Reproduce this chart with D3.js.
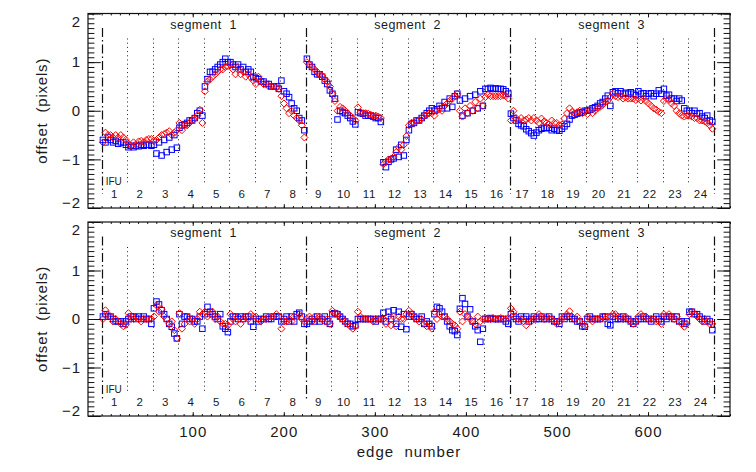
<!DOCTYPE html>
<html><head><meta charset="utf-8">
<script src="https://cdn.jsdelivr.net/npm/d3@7"></script>
<style>
html,body{margin:0;padding:0;background:#fff;}
svg text{font-family:"Liberation Sans",Arial,sans-serif;fill:#1a1a1a;}
</style></head>
<body><svg id="chart" width="756" height="472"></svg>
<script>
// ---------------- data ----------------
const ifuLabels = d3.range(1, 25).map(String);
const segmentLabels = ["segment  1", "segment  2", "segment  3"];
const segmentBounds = [0, 224, 448, 672];
const xTickLabels = [100, 200, 300, 400, 500, 600];
const yTickLabels = [-2, -1, 0, 1, 2];

// top panel, per IFU (10 sampled edges each)
const topRed = [
[-0.65,-0.45,-0.5,-0.5,-0.55,-0.5,-0.55,-0.5,-0.55,-0.6],
[-0.68,-0.72,-0.65,-0.7,-0.63,-0.62,-0.65,-0.6,-0.58,-0.58],
[-0.62,-0.6,-0.55,-0.5,-0.48,-0.45,-0.42,-0.5,-0.45,-0.4],
[-0.25,-0.4,-0.3,-0.3,-0.25,-0.2,-0.15,-0.1,0.02,-0.25],
[0.4,0.6,0.65,0.7,0.75,0.8,0.85,0.85,0.9,0.92],
[0.95,0.85,0.75,0.9,0.75,0.8,0.7,0.75,0.68,0.62],
[0.55,0.7,0.6,0.55,0.55,0.5,0.5,0.5,0.48,0.45],
[0.3,0.15,0.05,-0.05,0.0,-0.1,-0.15,-0.2,-0.3,-0.55],
[1.0,0.95,0.9,0.85,0.8,0.75,0.72,0.65,0.6,0.5],
[0.35,0.2,0.0,0.08,0.05,0.0,-0.05,-0.1,-0.15,-0.2],
[0.07,-0.03,-0.05,-0.05,-0.06,-0.08,-0.1,-0.1,-0.12,-0.15],
[-1.1,-1.05,-1.0,-1.0,-0.95,-0.85,-0.75,-0.8,-0.7,-0.52],
[-0.3,-0.25,-0.25,-0.2,-0.2,-0.15,-0.1,-0.08,-0.05,-0.05],
[-0.1,0.0,0.05,0.0,0.1,0.15,0.2,0.25,0.3,0.35],
[0.0,-0.12,0.05,-0.05,0.1,0.0,0.18,0.05,0.25,0.1],
[0.28,0.33,0.3,0.3,0.3,0.3,0.3,0.32,0.3,0.25],
[-0.2,0.0,-0.15,-0.2,-0.15,-0.2,-0.18,-0.15,-0.2,-0.15],
[-0.2,-0.25,-0.16,-0.22,-0.25,-0.28,-0.2,-0.25,-0.25,-0.3],
[-0.28,-0.16,-0.05,0.05,-0.02,-0.05,-0.03,0.0,-0.05,0.0],
[-0.07,0.0,-0.05,0.0,0.05,0.08,0.12,0.18,0.21,0.28],
[0.35,0.3,0.28,0.3,0.25,0.27,0.25,0.25,0.25,0.22],
[0.25,0.21,0.25,0.2,0.15,0.1,0.05,0.02,-0.02,-0.05],
[0.2,0.25,0.22,0.15,0.1,0.0,-0.05,-0.1,-0.12,-0.1],
[-0.1,-0.12,-0.15,-0.15,-0.2,-0.2,-0.22,-0.25,-0.3,-0.37]
];
const topBlue = [
[-0.6,-0.65,-0.55,-0.6,-0.65,-0.62,-0.68,-0.65,-0.65,-0.7],
[-0.75,-0.72,-0.75,-0.72,-0.73,-0.7,-0.72,-0.7,-0.7,-0.72],
[-0.7,-0.88,-0.65,-0.92,-0.6,-0.85,-0.55,-0.8,-0.5,-0.76],
[-0.35,-0.3,-0.28,-0.25,-0.2,-0.2,-0.15,-0.05,0.0,-0.1],
[0.5,0.65,0.8,0.8,0.85,0.9,0.95,1.0,1.07,1.0],
[1.0,0.95,0.9,0.95,0.85,0.9,0.8,0.85,0.8,0.7],
[0.67,0.65,0.6,0.6,0.55,0.55,0.5,0.5,0.5,0.45],
[0.62,0.4,0.35,0.28,0.15,0.05,0.0,-0.15,-0.2,-0.4],
[1.07,0.95,0.9,0.8,0.75,0.75,0.7,0.62,0.55,0.42],
[0.35,0.25,-0.18,0.0,-0.03,-0.05,-0.1,-0.15,-0.22,-0.28],
[-0.03,-0.05,-0.06,-0.1,-0.1,-0.1,-0.12,-0.15,-0.15,-0.23],
[-1.06,-1.16,-1.05,-1.0,-0.98,-0.8,-0.95,-0.7,-0.92,-0.6],
[-0.4,-0.27,-0.25,-0.2,-0.2,-0.15,-0.1,-0.05,0.0,0.05],
[0.0,0.03,0.1,0.05,0.18,0.05,0.25,0.08,0.3,0.35],
[0.21,-0.1,0.25,-0.05,0.3,0.0,0.33,0.05,0.4,0.1],
[0.45,0.45,0.47,0.45,0.46,0.45,0.45,0.44,0.4,0.35],
[-0.06,-0.15,-0.2,-0.27,-0.3,-0.32,-0.38,-0.42,-0.46,-0.51],
[-0.45,-0.4,-0.37,-0.35,-0.36,-0.35,-0.4,-0.37,-0.4,-0.41],
[-0.37,-0.32,-0.27,-0.18,-0.1,-0.08,-0.06,-0.04,-0.03,0.0],
[0.0,0.02,0.05,0.07,0.1,0.15,0.18,0.25,0.31,0.1],
[0.38,0.4,0.36,0.4,0.35,0.37,0.35,0.38,0.35,0.32],
[0.4,0.35,0.36,0.3,0.35,0.36,0.3,0.35,0.42,0.35],
[0.45,0.31,0.33,0.25,0.25,0.2,0.25,0.21,0.05,0.0],
[0.0,-0.05,0.0,-0.06,-0.05,-0.12,-0.15,-0.1,-0.2,-0.23]
];
// bottom panel (residuals)
const botRed = [
[0.0,0.18,0.1,0.05,-0.05,0.0,-0.05,-0.1,-0.15,-0.12],
[0.12,0.0,0.0,0.05,0.0,-0.05,0.0,0.0,0.0,0.0],
[0.05,0.28,0.15,0.2,0.05,0.0,-0.1,-0.05,-0.23,-0.4],
[0.12,-0.2,-0.1,0.05,-0.05,0.0,-0.1,0.0,0.15,0.1],
[0.15,0.05,0.1,0.15,0.0,0.05,-0.05,-0.1,-0.1,-0.13],
[0.1,0.0,-0.05,0.05,-0.1,0.0,0.05,0.0,0.1,0.05],
[0.05,0.0,-0.05,0.0,0.0,0.05,0.05,0.05,0.1,0.05],
[-0.2,-0.05,-0.05,0.0,-0.05,0.05,0.05,0.1,0.0,-0.05],
[0.0,0.05,-0.05,0.05,0.0,0.05,0.0,-0.05,0.0,-0.1],
[0.17,0.12,0.1,0.05,0.0,-0.05,-0.1,-0.15,-0.2,-0.15],
[0.15,0.05,0.0,0.0,0.0,0.0,-0.05,0.0,0.0,0.0],
[0.0,-0.1,0.05,-0.13,0.05,-0.15,0.05,0.0,0.0,0.1],
[0.17,0.1,0.05,0.0,-0.05,0.0,-0.1,-0.15,-0.1,-0.2],
[0.15,0.0,0.1,0.05,0.05,0.0,-0.05,-0.1,-0.13,-0.2],
[0.15,-0.05,0.1,0.05,0.0,-0.05,-0.1,0.05,-0.05,0.0],
[0.02,0.0,0.0,0.02,0.0,0.0,0.02,0.0,0.0,0.02],
[0.22,0.15,0.05,0.0,0.0,-0.05,-0.13,0.0,-0.05,0.0],
[0.05,0.1,0.05,0.0,0.05,0.0,0.0,-0.05,-0.1,-0.05],
[0.0,0.05,0.1,0.16,0.05,0.0,0.05,-0.05,-0.1,-0.15],
[0.05,0.0,-0.05,0.0,0.0,0.0,0.05,0.0,0.05,0.05],
[0.1,0.1,0.05,0.05,0.0,0.05,0.0,-0.05,-0.1,-0.05],
[0.05,0.1,0.05,0.05,0.0,0.0,0.0,-0.05,-0.05,-0.1],
[0.1,0.05,0.1,0.05,0.0,0.05,-0.05,-0.1,-0.16,-0.1],
[0.1,0.15,0.1,0.05,0.0,-0.05,0.0,-0.05,-0.1,-0.1]
];
const botBlue = [
[0.05,0.1,0.05,0.05,0.0,-0.05,-0.05,-0.05,-0.1,-0.05],
[0.0,0.05,0.05,0.0,0.05,0.0,0.05,0.0,0.0,-0.1],
[0.22,0.36,0.3,0.18,0.1,0.0,-0.1,-0.16,-0.3,-0.4],
[0.1,-0.1,0.05,0.05,0.0,0.0,-0.05,-0.05,0.05,-0.2],
[0.1,0.25,0.15,0.1,0.05,0.0,0.1,-0.15,-0.2,-0.27],
[-0.05,0.05,0.05,0.0,0.05,0.0,0.05,0.05,-0.05,-0.16],
[0.0,-0.05,0.0,0.0,0.05,0.0,0.0,0.05,0.05,0.05],
[-0.05,0.0,0.05,-0.05,0.05,-0.05,0.1,0.13,0.05,-0.1],
[-0.1,-0.05,0.0,-0.05,0.05,-0.05,0.0,0.05,-0.05,-0.1],
[0.1,0.12,0.1,0.05,0.0,-0.05,-0.1,-0.1,-0.15,-0.13],
[0.0,0.0,0.0,0.0,0.0,0.0,0.0,-0.05,0.0,0.0],
[0.13,-0.05,0.15,0.0,0.18,-0.1,0.15,-0.16,0.1,-0.21],
[0.05,0.1,0.05,0.0,0.0,0.05,-0.1,-0.05,-0.1,-0.15],
[0.1,0.25,0.22,0.15,0.05,-0.05,-0.15,-0.23,-0.25,-0.33],
[0.21,0.43,0.31,0.05,0.2,-0.05,-0.15,-0.23,-0.47,-0.2],
[0.0,0.0,0.02,0.0,0.0,0.0,0.0,0.0,-0.05,-0.1],
[0.1,0.05,0.0,-0.05,0.05,0.0,0.05,-0.05,0.0,0.05],
[0.0,0.0,0.05,0.0,0.0,0.05,0.0,-0.05,-0.05,-0.1],
[0.05,0.0,0.05,0.05,0.0,0.0,-0.05,-0.05,-0.15,-0.16],
[0.0,0.05,0.0,0.0,0.0,0.0,0.05,0.05,-0.1,-0.13],
[0.05,0.0,0.0,0.0,0.05,0.0,0.0,-0.05,-0.1,-0.05],
[0.0,0.0,0.05,0.0,0.0,-0.05,0.0,0.05,0.0,-0.05],
[0.05,0.0,0.05,0.05,0.0,0.05,-0.05,-0.05,-0.1,-0.05],
[0.15,0.15,0.1,0.1,0.05,0.0,-0.05,0.0,-0.05,-0.23]
];

// ---------------- layout ----------------
const EDGES_PER_IFU = 28;
const left = 88, right = 730;
const panels = [
  {top: 13.5, bottom: 208, red: topRed, blue: topBlue, xlabels: false},
  {top: 222, bottom: 416, red: botRed, blue: botBlue, xlabels: true}
];
const svg = d3.select("#chart");
svg.append("rect").attr("width", 756).attr("height", 472).attr("fill", "#fff");

const x = d3.scaleLinear().domain([-15, 690]).range([left, right]);
const xMinor = d3.range(-10, 691, 10);
const yMinor = d3.range(-20, 21).map(d => d / 10);

function pointsOf(arr) {
  const out = [];
  arr.forEach((vals, i) => {
    const n = vals.length, step = EDGES_PER_IFU / n;
    vals.forEach((v, k) => out.push({e: i * EDGES_PER_IFU + step * (k + 0.5), v}));
  });
  return out;
}

const diamond = "M0,-3.5L3.5,0L0,3.5L-3.5,0Z";

panels.forEach(p => {
  const y = d3.scaleLinear().domain([-2, 2]).range([p.bottom, p.top]);
  const g = svg.append("g");
  const H = p.bottom - p.top, W = right - left;
  const yMaj = 0.02 * W, yMin = 0.01 * W, xMaj = 0.02 * H, xMin = 0.01 * H;

  // guide lines
  const ifuEdges = d3.range(1, 24).filter(i => i % 8 !== 0).map(i => i * EDGES_PER_IFU);
  g.selectAll(".dot").data(ifuEdges).join("line")
    .attr("x1", d => Math.round(x(d)) + 0.5).attr("x2", d => Math.round(x(d)) + 0.5)
    .attr("y1", p.top + 25).attr("y2", p.bottom - 24)
    .attr("stroke", "#222").attr("stroke-width", 1).attr("stroke-dasharray", "1,3.2");
  g.selectAll(".seg").data(segmentBounds).join("line")
    .attr("x1", d => Math.round(x(d)) + 0.5).attr("x2", d => Math.round(x(d)) + 0.5)
    .attr("y1", p.top + 14.5).attr("y2", p.bottom - 14.5)
    .attr("stroke", "#111").attr("stroke-width", 1.2).attr("stroke-dasharray", "9,3,1.5,3");

  // labels
  g.selectAll(".segl").data(segmentLabels).join("text")
    .attr("x", (d, i) => x((segmentBounds[i] + segmentBounds[i + 1]) / 2))
    .attr("y", p.top + 15).attr("text-anchor", "middle")
    .style("font-size", "12.5px").style("letter-spacing", "0.5px").style("white-space", "pre")
    .text(d => d);
  g.selectAll(".ifun").data(ifuLabels).join("text")
    .attr("x", (d, i) => x(i * EDGES_PER_IFU + EDGES_PER_IFU / 2))
    .attr("y", p.bottom - 10).attr("text-anchor", "middle")
    .style("font-size", "11.5px").style("letter-spacing", "0.6px")
    .text(d => d);
  g.append("text").attr("x", x(0) + 4).attr("y", p.bottom - 23.5)
    .style("font-size", "10px").text("IFU");

  // data
  g.selectAll(".bq").data(pointsOf(p.blue)).join("rect")
    .attr("x", d => x(d.e) - 2.75).attr("y", d => y(d.v) - 2.75)
    .attr("width", 5.5).attr("height", 5.5)
    .attr("fill", "none").attr("stroke", "#0000ff").attr("stroke-width", 1);
  g.selectAll(".rd").data(pointsOf(p.red)).join("path")
    .attr("d", diamond).attr("transform", d => `translate(${x(d.e)},${y(d.v)})`)
    .attr("fill", "none").attr("stroke", "#ff0000").attr("stroke-width", 1);

  // axes
  const fmt = d3.format("d");
  g.append("g").attr("transform", `translate(${left},0)`)
    .call(d3.axisLeft(y).tickValues(yTickLabels).tickSize(-yMaj).tickPadding(7).tickFormat(fmt))
    .selectAll(".tick text")
    .attr("dy", d => d === 2 ? "0.85em" : d === -2 ? "-0.05em" : "0.32em");
  g.append("g").attr("transform", `translate(${left},0)`)
    .call(d3.axisLeft(y).tickValues(yMinor).tickSize(-yMin).tickFormat(""));
  g.append("g").attr("transform", `translate(${right},0)`)
    .call(d3.axisRight(y).tickValues(yTickLabels).tickSize(-yMaj).tickFormat(""));
  g.append("g").attr("transform", `translate(${right},0)`)
    .call(d3.axisRight(y).tickValues(yMinor).tickSize(-yMin).tickFormat(""));
  g.append("g").attr("transform", `translate(0,${p.bottom})`)
    .call(d3.axisBottom(x).tickValues(xTickLabels).tickSize(-xMaj).tickPadding(10)
      .tickFormat(p.xlabels ? fmt : ""));
  g.append("g").attr("transform", `translate(0,${p.bottom})`)
    .call(d3.axisBottom(x).tickValues(xMinor).tickSize(-xMin).tickFormat(""));
  g.append("g").attr("transform", `translate(0,${p.top})`)
    .call(d3.axisTop(x).tickValues(xTickLabels).tickSize(-xMaj).tickFormat(""));
  g.append("g").attr("transform", `translate(0,${p.top})`)
    .call(d3.axisTop(x).tickValues(xMinor).tickSize(-xMin).tickFormat(""));
  g.selectAll(".domain").remove();
  g.selectAll(".tick line").attr("stroke", "#111");
  g.selectAll(".tick text").style("font-size", "15px").style("letter-spacing", "1px")
    .attr("fill", "#1a1a1a").style("font-family", '"Liberation Sans", Arial, sans-serif');
  g.append("rect").attr("x", left).attr("y", p.top).attr("width", W).attr("height", H)
    .attr("fill", "none").attr("stroke", "#111").attr("stroke-width", 1.2);

  g.append("text")
    .attr("transform", `translate(47,${(p.top + p.bottom) / 2}) rotate(-90)`)
    .attr("text-anchor", "middle").style("font-size", "15px").style("letter-spacing", "0.8px")
    .style("white-space", "pre").text("offset  (pixels)");
});

svg.append("text").attr("x", 409).attr("y", 457).attr("text-anchor", "middle")
  .style("font-size", "15px").style("letter-spacing", "1px").style("white-space", "pre")
  .text("edge  number");
</script>
</body></html>
